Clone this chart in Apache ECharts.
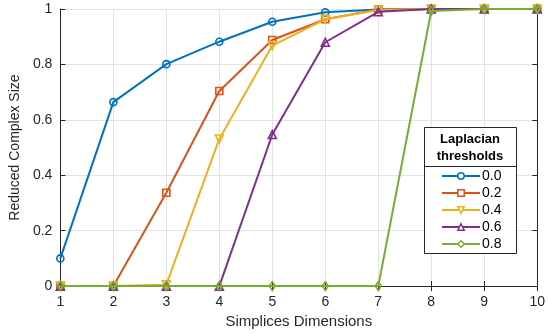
<!DOCTYPE html>
<html><head><meta charset="utf-8">
<script src="https://cdn.jsdelivr.net/npm/echarts@6/dist/echarts.min.js"></script>
<style>html,body{margin:0;padding:0;background:#fff}#c{width:548px;height:334px}</style>
</head><body><div id="c"></div>
<script>
const dims = [1,2,3,4,5,6,7,8,9,10];
const thresholdNames = ['0.0','0.2','0.4','0.6','0.8'];
const s00 = [0.10,0.664,0.801,0.882,0.954,0.988,0.998,1.0,1.0,1.0];
const s02 = [0.0,0.0,0.337,0.704,0.888,0.963,0.998,1.0,1.0,1.0];
const s04 = [0.0,0.0,0.005,0.531,0.868,0.963,0.996,1.0,1.0,1.0];
const s06 = [0.0,0.0,0.0,0.0,0.547,0.880,0.990,1.0,1.0,1.0];
const s08 = [0.0,0.0,0.0,0.0,0.0,0.0,0.0,0.993,1.0,1.0];
const yTicks = [0,0.2,0.4,0.6,0.8,1];

const colors = ['#0072BD','#D95319','#EDB120','#7E2F8E','#77AC30'];
const symbols = ['circle','rect','triangle','triangle','diamond'];
const rotates = [0,0,180,0,0];
const sizes = [7,7,8,8,[6,9]];
const allData = [s00,s02,s04,s06,s08];
const font = 'Liberation Sans, Arial, Helvetica, sans-serif';
const axisCol = '#262626';

const chart = echarts.init(document.getElementById('c'));
const series = allData.map((d,i)=>({
  name: thresholdNames[i], type:'line',
  data: d.map((v,j)=>[dims[j],v]),
  symbol: symbols[i], symbolRotate: rotates[i], symbolSize: sizes[i],
  showAllSymbol: true,
  lineStyle:{color:colors[i], width:2},
  itemStyle:{color:'rgba(255,255,255,0)', borderColor:colors[i], borderWidth:1.6},
  emphasis:{disabled:true}, z: 2+i
}));
chart.setOption({
  animation:false,
  grid:{left:57,right:9,top:9,bottom:47},
  xAxis:[{type:'value',min:1,max:10,interval:1,
    name:'Simplices Dimensions',nameLocation:'middle',nameGap:27,
    nameTextStyle:{fontFamily:font,fontSize:15,color:axisCol},
    axisLine:{lineStyle:{color:axisCol,width:1}},
    axisTick:{inside:true,length:5,lineStyle:{color:axisCol}},
    axisLabel:{fontFamily:font,fontSize:14,color:axisCol,margin:9},
    splitLine:{show:true,lineStyle:{color:'#e3e3e3',width:1}}},
   {type:'value',min:1,max:10,interval:1,position:'top',
    axisLine:{show:true,lineStyle:{color:axisCol,width:1}},
    axisTick:{show:true,inside:true,length:5,lineStyle:{color:axisCol}},
    axisLabel:{show:false},splitLine:{show:false}}],
  yAxis:[{type:'value',min:0,max:1,interval:0.2,
    name:'Reduced Complex Size',nameLocation:'middle',nameGap:33,
    nameTextStyle:{fontFamily:font,fontSize:14,color:axisCol},
    axisLine:{show:true,lineStyle:{color:axisCol,width:1}},
    axisTick:{show:true,inside:true,length:5,lineStyle:{color:axisCol}},
    axisLabel:{fontFamily:font,fontSize:14,color:axisCol,margin:8,
      formatter:v=>{const t=yTicks.find(x=>Math.abs(x-v)<1e-9);return t===undefined?'':String(t);}},
    splitLine:{show:true,lineStyle:{color:'#e3e3e3',width:1}}},
   {type:'value',min:0,max:1,interval:0.2,position:'right',
    axisLine:{show:true,lineStyle:{color:axisCol,width:1}},
    axisTick:{show:true,inside:true,length:5,lineStyle:{color:axisCol}},
    axisLabel:{show:false},splitLine:{show:false}}],
  legend:{orient:'vertical',left:436,top:164,itemWidth:38,itemHeight:8,itemGap:3,
    data:thresholdNames.map((n,i)=>({name:n,
      itemStyle:{color:'#fff',borderColor:colors[i],borderWidth:1.5}})),
    z:20,
    textStyle:{fontFamily:font,fontSize:14,color:'#000',padding:[0,0,0,-3]}},
  graphic:[
    {type:'rect',z:15,shape:{x:424.5,y:127.5,width:92,height:126},
      style:{fill:'#fff',stroke:axisCol,lineWidth:1}},
    {type:'line',z:16,shape:{x1:424.5,y1:166.5,x2:516.5,y2:166.5},
      style:{stroke:axisCol,lineWidth:1}},
    {type:'text',z:16,x:470,y:131,
      style:{text:'Laplacian\nthresholds',textAlign:'center',textVerticalAlign:'top',
        font:'bold 13px '+font,fill:'#000',lineHeight:17}}
  ],
  series: series
});
</script></body></html>
